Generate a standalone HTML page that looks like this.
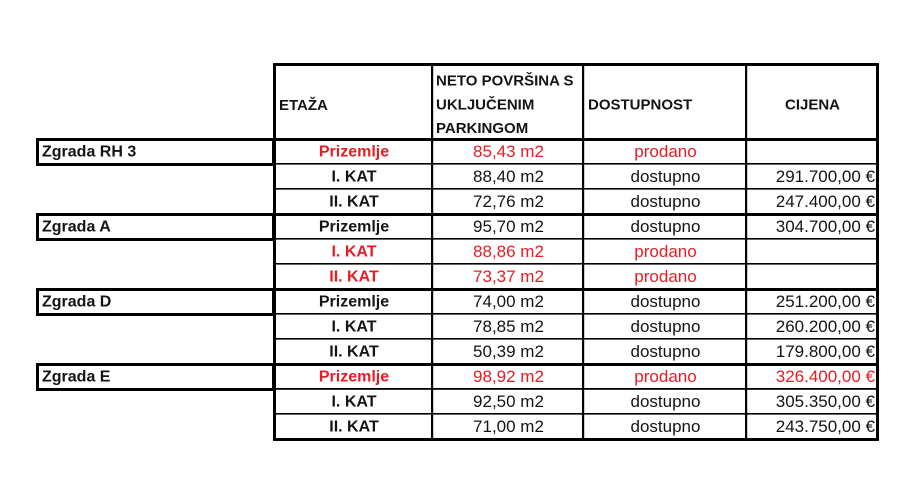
<!DOCTYPE html>
<html>
<head>
<meta charset="utf-8">
<style>
  html,body{margin:0;padding:0;background:#fff;}
  svg{display:block;}
  text{font-family:"Liberation Sans",Arial,sans-serif;fill:#141414;}
  .h{font-size:15px;font-weight:bold;}
  .b{font-size:16px;font-weight:bold;}
  .r{font-size:17px;}
  .red{fill:#e81c24;}
</style>
</head>
<body>
<svg width="920" height="500" viewBox="0 0 920 500" xmlns="http://www.w3.org/2000/svg">
  <rect x="0" y="0" width="920" height="500" fill="#fff"/>

  <!-- thin row lines -->
  <g fill="#000">
    <rect x="274" y="163" width="604" height="1.6"/>
    <rect x="274" y="188" width="604" height="1.6"/>
    <rect x="274" y="238" width="604" height="1.6"/>
    <rect x="274" y="263" width="604" height="1.6"/>
    <rect x="274" y="313" width="604" height="1.6"/>
    <rect x="274" y="338" width="604" height="1.6"/>
    <rect x="274" y="388" width="604" height="1.8"/>
    <rect x="274" y="413" width="604" height="1.6"/>
    <!-- thick row lines -->
    <rect x="273" y="138" width="606" height="3"/>
    <rect x="273" y="213" width="606" height="3"/>
    <rect x="273" y="288" width="606" height="3"/>
    <rect x="273" y="363" width="606" height="3"/>
    <!-- outer border -->
    <rect x="273" y="63" width="606" height="3"/>
    <rect x="273" y="438" width="606" height="3"/>
    <rect x="273" y="63" width="3" height="378"/>
    <rect x="876" y="63" width="3" height="378"/>
    <!-- column lines -->
    <rect x="431" y="63" width="2.2" height="378"/>
    <rect x="582" y="63" width="2.2" height="378"/>
    <rect x="745" y="63" width="2.2" height="378"/>
  </g>

  <!-- Zgrada boxes -->
  <g fill="none" stroke="#000" stroke-width="3">
    <rect x="37.5" y="139.5" width="236" height="25"/>
    <rect x="37.5" y="214.5" width="236" height="25"/>
    <rect x="37.5" y="289.5" width="236" height="25"/>
    <rect x="37.5" y="364.5" width="236" height="25"/>
  </g>

  <!-- header -->
  <text class="h" x="279" y="110">ETAŽA</text>
  <text class="h" x="436" y="85.5">NETO POVRŠINA S</text>
  <text class="h" x="436" y="109.5">UKLJUČENIM</text>
  <text class="h" x="436" y="133">PARKINGOM</text>
  <text class="h" x="588" y="109.5">DOSTUPNOST</text>
  <text class="h" x="812.5" y="109.5" text-anchor="middle">CIJENA</text>

  <!-- Zgrada labels -->
  <text class="b" x="42" y="156.5">Zgrada RH 3</text>
  <text class="b" x="42" y="231.5">Zgrada A</text>
  <text class="b" x="42" y="306.5">Zgrada D</text>
  <text class="b" x="42" y="381.5">Zgrada E</text>

  <!-- ETAŽA column -->
  <g text-anchor="middle">
    <text class="b red" x="354" y="156.5">Prizemlje</text>
    <text class="b" x="354" y="181.5">I. KAT</text>
    <text class="b" x="354" y="206.5">II. KAT</text>
    <text class="b" x="354" y="231.5">Prizemlje</text>
    <text class="b red" x="354" y="256.5">I. KAT</text>
    <text class="b red" x="354" y="281.5">II. KAT</text>
    <text class="b" x="354" y="306.5">Prizemlje</text>
    <text class="b" x="354" y="331.5">I. KAT</text>
    <text class="b" x="354" y="356.5">II. KAT</text>
    <text class="b red" x="354" y="381.5">Prizemlje</text>
    <text class="b" x="354" y="406.5">I. KAT</text>
    <text class="b" x="354" y="431.5">II. KAT</text>
  </g>

  <!-- area column -->
  <g text-anchor="middle">
    <text class="r red" x="508.5" y="157">85,43 m2</text>
    <text class="r" x="508.5" y="182">88,40 m2</text>
    <text class="r" x="508.5" y="207">72,76 m2</text>
    <text class="r" x="508.5" y="232">95,70 m2</text>
    <text class="r red" x="508.5" y="257">88,86 m2</text>
    <text class="r red" x="508.5" y="282">73,37 m2</text>
    <text class="r" x="508.5" y="307">74,00 m2</text>
    <text class="r" x="508.5" y="332">78,85 m2</text>
    <text class="r" x="508.5" y="357">50,39 m2</text>
    <text class="r red" x="508.5" y="382">98,92 m2</text>
    <text class="r" x="508.5" y="407">92,50 m2</text>
    <text class="r" x="508.5" y="432">71,00 m2</text>
  </g>

  <!-- availability column -->
  <g text-anchor="middle">
    <text class="r red" x="665.5" y="157">prodano</text>
    <text class="r" x="665.5" y="182">dostupno</text>
    <text class="r" x="665.5" y="207">dostupno</text>
    <text class="r" x="665.5" y="232">dostupno</text>
    <text class="r red" x="665.5" y="257">prodano</text>
    <text class="r red" x="665.5" y="282">prodano</text>
    <text class="r" x="665.5" y="307">dostupno</text>
    <text class="r" x="665.5" y="332">dostupno</text>
    <text class="r" x="665.5" y="357">dostupno</text>
    <text class="r red" x="665.5" y="382">prodano</text>
    <text class="r" x="665.5" y="407">dostupno</text>
    <text class="r" x="665.5" y="432">dostupno</text>
  </g>

  <!-- price column -->
  <g text-anchor="end">
    <text class="r" x="875" y="182">291.700,00 €</text>
    <text class="r" x="875" y="207">247.400,00 €</text>
    <text class="r" x="875" y="232">304.700,00 €</text>
    <text class="r" x="875" y="307">251.200,00 €</text>
    <text class="r" x="875" y="332">260.200,00 €</text>
    <text class="r" x="875" y="357">179.800,00 €</text>
    <text class="r red" x="875" y="382">326.400,00 €</text>
    <text class="r" x="875" y="407">305.350,00 €</text>
    <text class="r" x="875" y="432">243.750,00 €</text>
  </g>
</svg>
</body>
</html>
